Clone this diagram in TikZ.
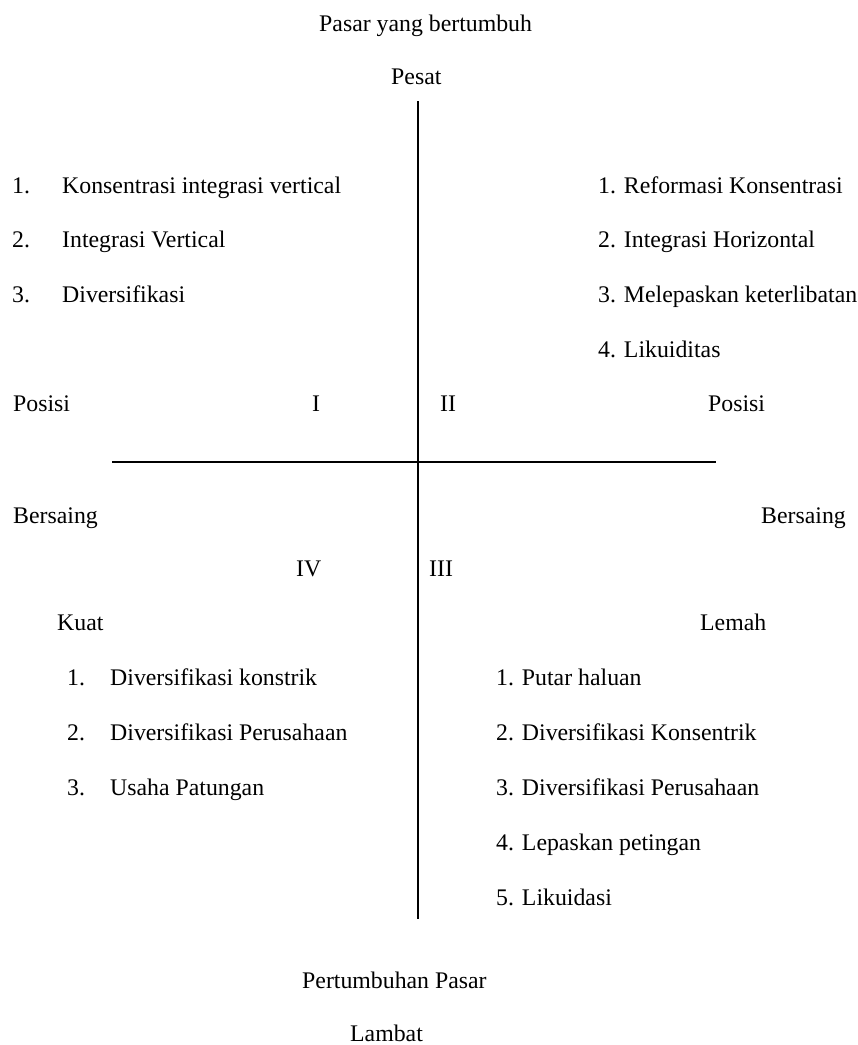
\documentclass[tikz,border=0pt]{standalone}
\usepackage{fontspec}
\setmainfont{Liberation Serif}
\begin{document}
\begin{tikzpicture}[x=1pt,y=-1pt,
  txt/.style={inner sep=0pt,anchor=base west,font=\fontsize{23.8}{28}\selectfont},
  axis/.style={line width=2pt,black}]
\useasboundingbox[fill=white] (0,0) rectangle (858,1045);
% axes
\coordinate (vtop) at (418,101);
\coordinate (vbot) at (418,919);
\coordinate (hl) at (112,462);
\coordinate (hr) at (716,462);
\draw[axis] (vtop) -- (vbot);
\draw[axis] (hl) -- (hr);
% top
\node[txt] (title) at (319,31) {Pasar yang bertumbuh};
\node[txt] (pesat) at (391,84) {Pesat};
% quadrant I list
\node[txt] (n1) at (12,193) {1.};
\node[txt] (t1) at (62,193) {Konsentrasi integrasi vertical};
\node[txt] (n2) at (12,247) {2.};
\node[txt] (t2) at (62,247) {Integrasi Vertical};
\node[txt] (n3) at (12,302) {3.};
\node[txt] (t3) at (62,302) {Diversifikasi};
% quadrant II list
\node[txt] (r1) at (598,193) {1. Reformasi Konsentrasi};
\node[txt] (r2) at (598,247) {2. Integrasi Horizontal};
\node[txt] (r3) at (598,302) {3. Melepaskan keterlibatan};
\node[txt] (r4) at (598,357) {4. Likuiditas};
% side labels
\node[txt] (posL) at (13,411) {Posisi};
\node[txt] (qI) at (312,411) {I};
\node[txt] (qII) at (440,411) {II};
\node[txt] (posR) at (708,411) {Posisi};
\node[txt] (bersL) at (13,523) {Bersaing};
\node[txt] (bersR) at (761,523) {Bersaing};
\node[txt] (qIV) at (296,576) {IV};
\node[txt] (qIII) at (429,576) {III};
\node[txt] (kuat) at (57,630) {Kuat};
\node[txt] (lemah) at (700,630) {Lemah};
% quadrant IV list
\node[txt] (m1) at (67,685) {1.};
\node[txt] (s1) at (110,685) {Diversifikasi konstrik};
\node[txt] (m2) at (67,740) {2.};
\node[txt] (s2) at (110,740) {Diversifikasi Perusahaan};
\node[txt] (m3) at (67,795) {3.};
\node[txt] (s3) at (110,795) {Usaha Patungan};
% quadrant III list
\node[txt] (u1) at (496,685) {1. Putar haluan};
\node[txt] (u2) at (496,740) {2. Diversifikasi Konsentrik};
\node[txt] (u3) at (496,795) {3. Diversifikasi Perusahaan};
\node[txt] (u4) at (496,850) {4. Lepaskan petingan};
\node[txt] (u5) at (496,905) {5. Likuidasi};
% bottom
\node[txt] (pp) at (302,988) {Pertumbuhan Pasar};
\node[txt] (lambat) at (350,1041) {Lambat};
\end{tikzpicture}
\end{document}
